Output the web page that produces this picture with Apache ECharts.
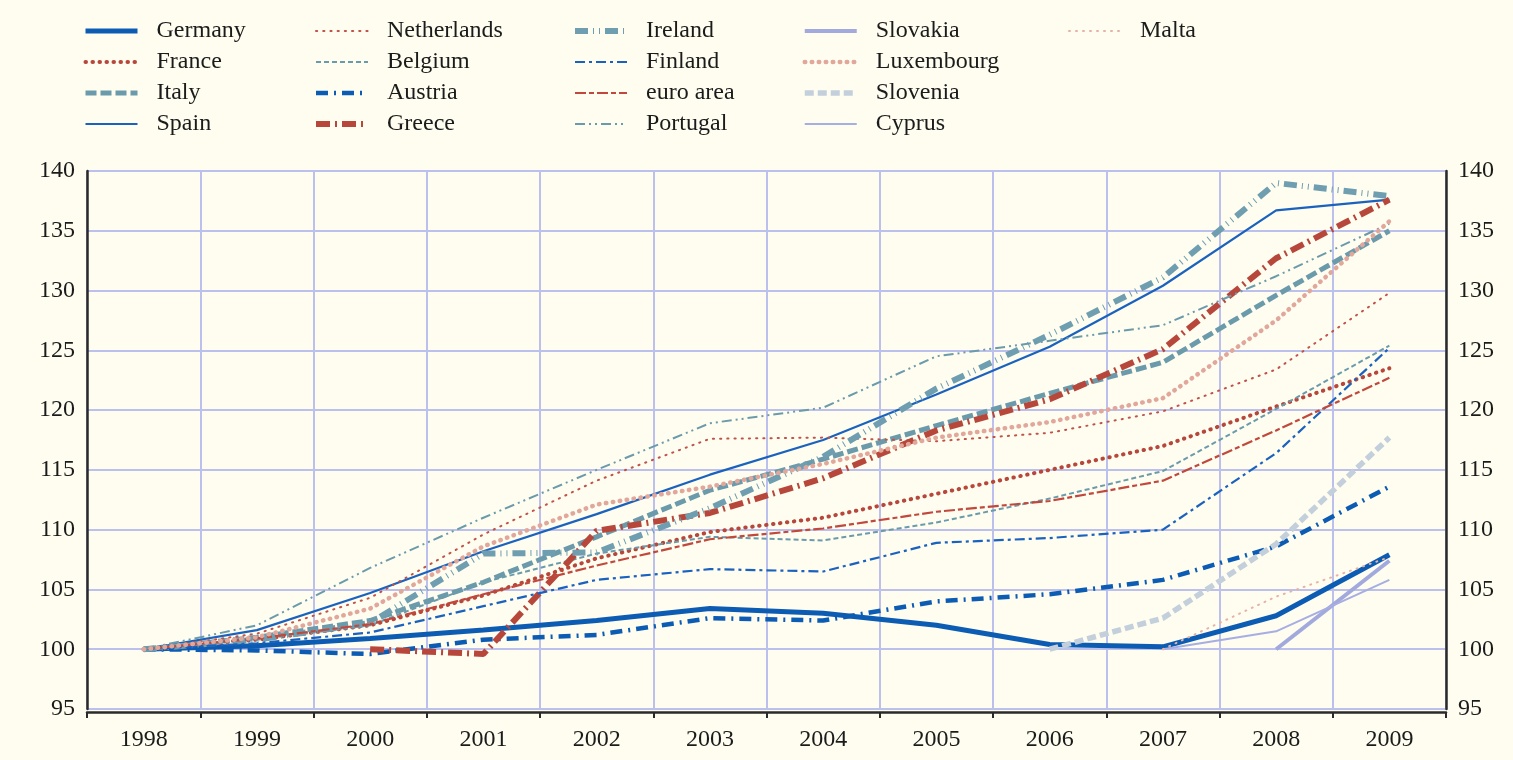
<!DOCTYPE html>
<html>
<head>
<meta charset="utf-8">
<script src="https://cdn.jsdelivr.net/npm/echarts@6/dist/echarts.min.js"></script>
<style>
  html, body { margin: 0; padding: 0; background: #fefdf0; }
  #chart { width: 1513px; height: 760px; }
</style>
</head>
<body>
<div id="chart"></div>
<script>
// years on the x axis
var years = ['1998', '1999', '2000', '2001', '2002', '2003', '2004', '2005', '2006', '2007', '2008', '2009'];
var yTicks = [95, 140, 5]; // min, max, step

// index values (1998 = 100, later entrants start the year before joining)
var germany     = [100, 100.3, 100.9, 101.6, 102.4, 103.4, 103.0, 102.0, 100.4, 100.2, 102.8, 107.9];
var france      = [100, 100.8, 102.0, 104.5, 107.6, 109.8, 111.0, 113.0, 115.0, 117.0, 120.3, 123.5];
var italy       = [100, 101.0, 102.4, 105.6, 109.4, 113.3, 115.9, 118.7, 121.4, 124.0, 129.6, 135.0];
var spain       = [100, 101.6, 104.7, 108.2, 111.3, 114.6, 117.5, 121.3, 125.3, 130.4, 136.7, 137.6];
var netherlands = [100, 101.3, 104.3, 109.6, 114.1, 117.6, 117.7, 117.4, 118.1, 119.9, 123.4, 129.8];
var belgium     = [100, 100.8, 102.0, 105.6, 108.0, 109.4, 109.1, 110.6, 112.6, 114.9, 120.1, 125.4];
var austria     = [100, 99.9, 99.6, 100.8, 101.2, 102.6, 102.4, 104.0, 104.6, 105.8, 108.6, 113.6];
var greece      = [null, null, 100.0, 99.6, 109.9, 111.4, 114.3, 118.3, 120.9, 125.1, 132.7, 137.6];
var ireland     = [100, 100.8, 102.2, 108.0, 108.1, 111.8, 116.1, 121.8, 126.3, 131.1, 139.0, 137.9];
var finland     = [100, 100.5, 101.4, 103.6, 105.8, 106.7, 106.5, 108.9, 109.3, 110.0, 116.4, 125.2];
var euroArea    = [100, 100.9, 102.1, 104.6, 107.0, 109.2, 110.1, 111.5, 112.4, 114.1, 118.3, 122.7];
var portugal    = [100, 102.0, 106.8, 111.0, 115.0, 118.9, 120.2, 124.5, 125.8, 127.1, 131.2, 135.6];
var slovakia    = [null, null, null, null, null, null, null, null, null, null, 100.0, 107.4];
var luxembourg  = [100, 101.0, 103.4, 108.6, 112.1, 113.6, 115.5, 117.7, 119.0, 121.0, 127.5, 135.8];
var slovenia    = [null, null, null, null, null, null, null, null, 100.0, 102.6, 108.8, 117.7];
var cyprus      = [null, null, null, null, null, null, null, null, null, 100.0, 101.5, 105.8];
var malta       = [null, null, null, null, null, null, null, null, null, 100.0, 104.4, 107.7];

var BLUE = '#0c5cb4', RED = '#b8473b', TEAL = '#6b9bab';
var FONT = '"Liberation Serif", "DejaVu Serif", serif';

// name, data, colour, width, dash pattern
var lines = [
    ['Germany', germany, BLUE, 5, 'solid'],
    ['France', france, RED, 4, [0.5, 6.5]],
    ['Italy', italy, TEAL, 5, [11, 4]],
    ['Spain', spain, '#1a62be', 2.2, 'solid'],
    ['Netherlands', netherlands, '#c0524a', 2, [1.2, 6]],
    ['Belgium', belgium, TEAL, 2, [5, 3]],
    ['Austria', austria, BLUE, 4.5, [12, 6, 2, 6]],
    ['Greece', greece, RED, 6, [14, 5, 2, 5]],
    ['Ireland', ireland, '#6e9eb0', 6, [13, 5, 1, 5, 1, 5]],
    ['Finland', finland, '#1a62be', 2.2, [10, 4, 3, 4]],
    ['euro area', euroArea, '#c0483c', 2.2, [11, 3, 5, 3]],
    ['Portugal', portugal, TEAL, 2, [10, 4, 2, 4, 2, 4]],
    ['Slovakia', slovakia, '#a2a9dd', 4, 'solid'],
    ['Luxembourg', luxembourg, '#e2a79b', 4.5, [0.5, 6.5]],
    ['Slovenia', slovenia, '#c3cfdb', 5.5, [9, 4]],
    ['Cyprus', cyprus, '#a6aee2', 2, 'solid'],
    ['Malta', malta, '#e7b2a6', 2, [1, 6]]
];

var styleOf = {};
var series = lines.map(function (l) {
    var dotted = Array.isArray(l[4]) && l[4][0] < 1.5;
    var ls = { color: l[2], width: l[3], type: l[4], cap: dotted ? 'round' : 'butt' };
    styleOf[l[0]] = ls;
    return {
        name: l[0],
        type: 'line',
        data: l[1],
        symbol: 'none',
        connectNulls: false,
        color: l[2],
        lineStyle: ls
    };
});

/*legend: five columns of four rows*/
var legendCols = [
    { left: 83, names: ['Germany', 'France', 'Italy', 'Spain'] },
    { left: 313, names: ['Netherlands', 'Belgium', 'Austria', 'Greece'] },
    { left: 572, names: ['Ireland', 'Finland', 'euro area', 'Portugal'] },
    { left: 802, names: ['Slovakia', 'Luxembourg', 'Slovenia', 'Cyprus'] },
    { left: 1068, names: ['Malta'] }
];
var legends = legendCols.map(function (c) {
    return {
        orient: 'vertical',
        left: c.left,
        top: 19,
        padding: 0,
        itemWidth: 52,
        itemHeight: 14,
        itemGap: 7,
        selectedMode: false,
        data: c.names.map(function (n) {
            return { name: n, lineStyle: styleOf[n], itemStyle: { opacity: 0 } };
        }),
        textStyle: { fontFamily: FONT, fontSize: 24, color: '#1b1b1b', lineHeight: 24, padding: [0, 0, 0, 14] }
    };
});

var yAxisBase = {
    type: 'value',
    min: yTicks[0],
    max: yTicks[1],
    interval: yTicks[2],
    axisLine: { show: true, lineStyle: { color: '#2a2a2a', width: 2.5 } },
    axisTick: { show: false },
    splitLine: { show: true, lineStyle: { color: '#bcc0ec', width: 2 } },
    axisLabel: { fontFamily: FONT, fontSize: 24, color: '#1b1b1b', margin: 12 }
};

var chart = echarts.init(document.getElementById('chart'));
chart.setOption({
    animation: false,
    backgroundColor: '#fefdf0',
    legend: legends,
    grid: { left: 87, right: 67, top: 171, bottom: 51 },
    xAxis: {
        type: 'category',
        data: years,
        boundaryGap: true,
        offset: 3,
        axisLine: { show: true, lineStyle: { color: '#2a2a2a', width: 2.5 } },
        axisTick: { show: true, alignWithLabel: false, length: 6, lineStyle: { color: '#2a2a2a', width: 2 } },
        splitLine: { show: true, lineStyle: { color: '#bcc0ec', width: 2 } },
        axisLabel: { fontFamily: FONT, fontSize: 24, color: '#1b1b1b', margin: 16 }
    },
    yAxis: [
        Object.assign({}, yAxisBase, { position: 'left' }),
        Object.assign({}, yAxisBase, { position: 'right', splitLine: { show: false } })
    ],
    series: series
});
</script>
</body>
</html>
